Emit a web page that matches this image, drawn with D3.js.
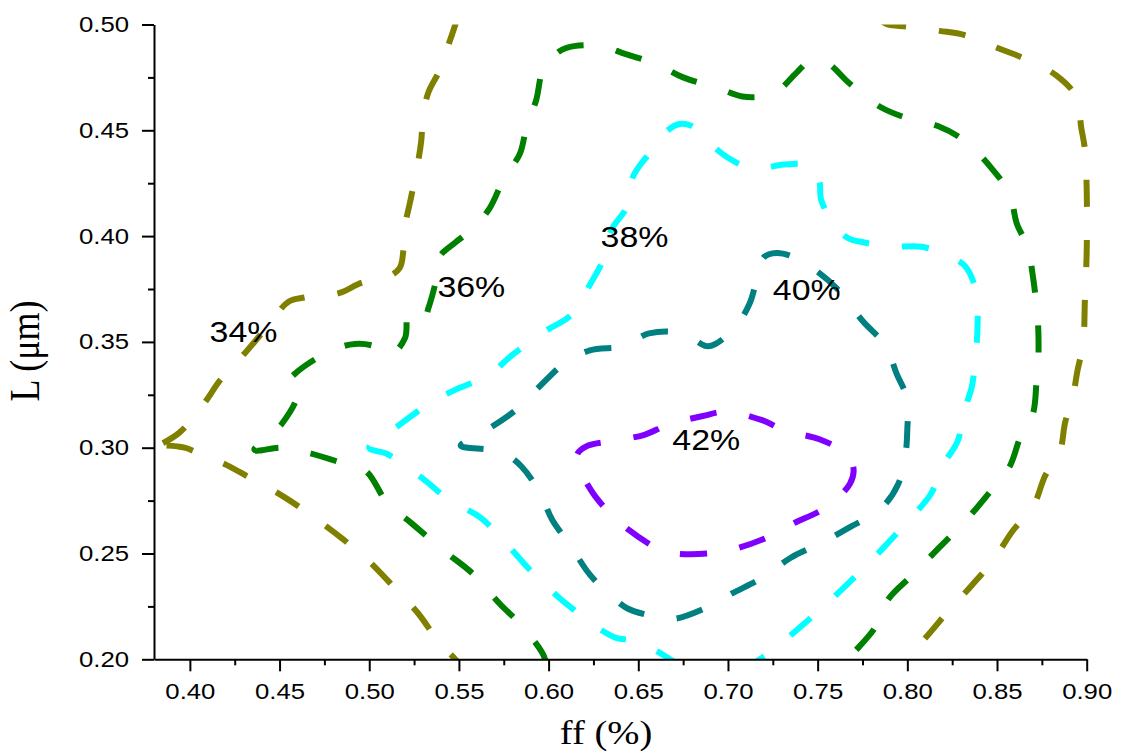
<!DOCTYPE html>
<html>
<head>
<meta charset="utf-8">
<script src="https://cdn.jsdelivr.net/npm/d3@7"></script>
<style>
  html, body { margin: 0; padding: 0; background: #fff; }
</style>
</head>
<body>
<svg id="chart" width="1123" height="751"></svg>
<script>
// Axis ticks
const ffTicks = [0.40, 0.45, 0.50, 0.55, 0.60, 0.65, 0.70, 0.75, 0.80, 0.85, 0.90];
const ffMinor = [0.425, 0.475, 0.525, 0.575, 0.625, 0.675, 0.725, 0.775, 0.825, 0.875];
const lTicks = [0.20, 0.25, 0.30, 0.35, 0.40, 0.45, 0.50];
const lMinor = [0.225, 0.275, 0.325, 0.375, 0.425, 0.475];

// Iso-efficiency contours, [ff, L] pairs
const eff34a = [[0.549,0.503],[0.548,0.500],[0.544,0.490],[0.539,0.478],[0.533,0.468],[0.530,0.457],[0.529,0.445],[0.527,0.434],[0.523,0.417],[0.520,0.405],[0.519,0.393],[0.517,0.385],[0.509,0.380],[0.496,0.378],[0.483,0.373],[0.464,0.371],[0.455,0.369],[0.443,0.357],[0.431,0.345],[0.417,0.332],[0.408,0.321],[0.394,0.307],[0.380,0.300]];
const eff34b = [[0.387,0.301],[0.397,0.300],[0.406,0.297],[0.420,0.292],[0.433,0.286],[0.452,0.277],[0.466,0.269],[0.485,0.257],[0.499,0.247],[0.515,0.233],[0.527,0.222],[0.539,0.208],[0.548,0.200],[0.551,0.196]];
const eff34c = [[0.785,0.502],[0.789,0.500],[0.800,0.499],[0.818,0.497],[0.832,0.495],[0.850,0.489],[0.865,0.484],[0.883,0.476],[0.894,0.466],[0.897,0.451],[0.899,0.441],[0.900,0.422],[0.900,0.393],[0.899,0.370],[0.898,0.349],[0.895,0.337],[0.892,0.323],[0.888,0.312],[0.885,0.298],[0.877,0.287],[0.870,0.272],[0.859,0.261],[0.848,0.247],[0.836,0.235],[0.822,0.222],[0.811,0.211],[0.799,0.200],[0.796,0.196]];
const eff36 = [[0.597,0.197],[0.598,0.200],[0.586,0.215],[0.573,0.226],[0.557,0.241],[0.542,0.251],[0.524,0.264],[0.510,0.274],[0.498,0.289],[0.484,0.293],[0.464,0.298],[0.451,0.300],[0.436,0.299],[0.451,0.311],[0.460,0.326],[0.455,0.331],[0.460,0.336],[0.479,0.346],[0.492,0.349],[0.503,0.348],[0.512,0.344],[0.520,0.352],[0.522,0.364],[0.531,0.362],[0.533,0.366],[0.538,0.382],[0.539,0.390],[0.548,0.397],[0.557,0.403],[0.567,0.413],[0.575,0.427],[0.584,0.439],[0.588,0.453],[0.593,0.464],[0.597,0.479],[0.604,0.486],[0.610,0.489],[0.628,0.490],[0.643,0.486],[0.661,0.481],[0.675,0.475],[0.694,0.470],[0.708,0.466],[0.719,0.466],[0.727,0.468],[0.738,0.477],[0.746,0.483],[0.755,0.482],[0.768,0.472],[0.785,0.461],[0.799,0.456],[0.817,0.452],[0.832,0.445],[0.847,0.432],[0.857,0.420],[0.861,0.406],[0.867,0.395],[0.870,0.381],[0.872,0.367],[0.873,0.356],[0.873,0.341],[0.872,0.331],[0.870,0.316],[0.863,0.305],[0.857,0.291],[0.846,0.279],[0.833,0.266],[0.818,0.253],[0.803,0.240],[0.789,0.228],[0.782,0.215],[0.770,0.203],[0.767,0.200],[0.764,0.196]];
const eff38 = [[0.673,0.197],[0.660,0.204],[0.646,0.209],[0.638,0.210],[0.629,0.214],[0.624,0.217],[0.606,0.229],[0.591,0.241],[0.576,0.255],[0.562,0.267],[0.545,0.275],[0.529,0.286],[0.510,0.297],[0.500,0.300],[0.514,0.309],[0.532,0.320],[0.547,0.327],[0.566,0.334],[0.580,0.344],[0.598,0.355],[0.613,0.363],[0.623,0.377],[0.630,0.388],[0.635,0.403],[0.643,0.413],[0.647,0.428],[0.656,0.439],[0.665,0.449],[0.673,0.453],[0.680,0.452],[0.686,0.447],[0.700,0.437],[0.714,0.432],[0.733,0.434],[0.747,0.433],[0.751,0.426],[0.752,0.417],[0.759,0.406],[0.767,0.399],[0.776,0.397],[0.789,0.395],[0.808,0.395],[0.822,0.391],[0.832,0.386],[0.837,0.378],[0.839,0.369],[0.839,0.354],[0.838,0.343],[0.836,0.329],[0.832,0.318],[0.828,0.303],[0.820,0.292],[0.813,0.278],[0.801,0.266],[0.787,0.253],[0.772,0.240],[0.756,0.227],[0.740,0.215],[0.723,0.203],[0.716,0.199],[0.712,0.196]];
const eff40 = [[0.717,0.383],[0.720,0.390],[0.727,0.392],[0.737,0.390],[0.747,0.385],[0.761,0.375],[0.775,0.360],[0.788,0.348],[0.794,0.335],[0.800,0.323],[0.800,0.309],[0.799,0.297],[0.795,0.283],[0.785,0.271],[0.767,0.262],[0.752,0.255],[0.735,0.248],[0.720,0.239],[0.702,0.231],[0.687,0.224],[0.669,0.219],[0.655,0.221],[0.644,0.224],[0.636,0.229],[0.623,0.240],[0.612,0.254],[0.602,0.266],[0.595,0.279],[0.585,0.291],[0.576,0.297],[0.567,0.299],[0.551,0.301],[0.563,0.307],[0.582,0.318],[0.595,0.329],[0.609,0.340],[0.623,0.346],[0.642,0.348],[0.656,0.354],[0.675,0.354],[0.688,0.348],[0.693,0.349],[0.704,0.357],[0.712,0.368]];
const eff42 = [[0.616,0.291],[0.616,0.297],[0.622,0.301],[0.634,0.303],[0.653,0.306],[0.667,0.311],[0.686,0.315],[0.699,0.317],[0.719,0.313],[0.732,0.308],[0.751,0.304],[0.766,0.297],[0.770,0.290],[0.768,0.283],[0.755,0.272],[0.736,0.264],[0.723,0.258],[0.703,0.252],[0.689,0.250],[0.671,0.250],[0.662,0.252],[0.657,0.254],[0.639,0.265],[0.626,0.277],[0.620,0.285]];

// Level labels and where they sit (left edge, baseline)
const labelText = ["34%", "36%", "38%", "40%", "42%"];
const labelFF = [0.411, 0.538, 0.629, 0.725, 0.669];
const labelL = [0.350, 0.371, 0.395, 0.370, 0.299];

// ---- drawing ----
const svg = d3.select("#chart");
svg.append("rect").attr("width", 1123).attr("height", 751).attr("fill", "#fff");

const x = d3.scaleLinear().domain([0.38, 0.90]).range([154, 1086.7]);
const y = d3.scaleLinear().domain([0.20, 0.50]).range([659.3, 24.5]);
const WIDEN = 1.17;

// stretch glyphs horizontally about each text's anchor point
function widen(sel, k) {
  sel.each(function () {
    const t = d3.select(this);
    const ax = +t.attr("x") || 0;
    t.attr("transform", `translate(${ax},0) scale(${k},1) translate(${-ax},0)`);
  });
}

svg.append("clipPath").attr("id", "plotClip")
  .append("rect")
  .attr("x", x(0.38)).attr("y", y(0.50))
  .attr("width", 1094 - x(0.38)).attr("height", y(0.20) - y(0.50));

const contours = [
  { pts: eff34a, color: "#808000", closed: false },
  { pts: eff34b, color: "#808000", closed: false },
  { pts: eff34c, color: "#808000", closed: false },
  { pts: eff36, color: "#008000", closed: false },
  { pts: eff38, color: "#00FFFF", closed: false },
  { pts: eff40, color: "#008080", closed: true },
  { pts: eff42, color: "#8000FF", closed: true }
];

const openLine = d3.line().x(d => x(d[0])).y(d => y(d[1])).curve(d3.curveCatmullRom.alpha(0.5));
const closedLine = d3.line().x(d => x(d[0])).y(d => y(d[1])).curve(d3.curveCatmullRomClosed.alpha(0.5));

const plot = svg.append("g").attr("clip-path", "url(#plotClip)");
plot.selectAll("path.contour")
  .data(contours)
  .join("path")
  .attr("class", "contour")
  .attr("d", c => (c.closed ? closedLine : openLine)(c.pts))
  .attr("fill", "none")
  .attr("stroke", c => c.color)
  .attr("stroke-width", 6)
  .attr("stroke-dasharray", "27 33")
  .attr("stroke-linecap", "butt")
  .attr("stroke-linejoin", "round");

// Axes
const fmt = d3.format(".2f");
function styleAxis(g) {
  g.select(".domain").attr("stroke", "#000").attr("stroke-width", 2);
  g.selectAll(".tick line").attr("stroke", "#000").attr("stroke-width", 2);
  g.selectAll(".tick text")
    .attr("fill", "#000")
    .style("font-family", "'Liberation Sans', Arial, sans-serif")
    .style("font-size", "22px");
}

const gx = svg.append("g").attr("transform", `translate(0,${y(0.20)})`)
  .call(d3.axisBottom(x).tickValues(ffTicks).tickFormat(fmt).tickSize(12).tickPadding(12).tickSizeOuter(0));
styleAxis(gx);
widen(gx.selectAll(".tick text"), WIDEN);
svg.append("g").attr("transform", `translate(0,${y(0.20)})`)
  .call(d3.axisBottom(x).tickValues(ffMinor).tickFormat("").tickSize(6).tickSizeOuter(0))
  .call(g => { g.select(".domain").remove(); g.selectAll(".tick line").attr("stroke", "#000").attr("stroke-width", 2); });

const gy = svg.append("g").attr("transform", `translate(${x(0.38)},0)`)
  .call(d3.axisLeft(y).tickValues(lTicks).tickFormat(fmt).tickSize(12).tickPadding(13).tickSizeOuter(0));
styleAxis(gy);
widen(gy.selectAll(".tick text"), WIDEN);
svg.append("g").attr("transform", `translate(${x(0.38)},0)`)
  .call(d3.axisLeft(y).tickValues(lMinor).tickFormat("").tickSize(6).tickSizeOuter(0))
  .call(g => { g.select(".domain").remove(); g.selectAll(".tick line").attr("stroke", "#000").attr("stroke-width", 2); });

// Contour level labels
const labels = svg.append("g").selectAll("text")
  .data(labelText)
  .join("text")
  .attr("x", (d, i) => x(labelFF[i]))
  .attr("y", (d, i) => y(labelL[i]))
  .attr("fill", "#000")
  .style("font-family", "'Liberation Sans', Arial, sans-serif")
  .style("font-size", "29px")
  .text(d => d);
widen(labels, WIDEN);

// Axis titles
const xTitle = svg.append("text")
  .attr("x", 606).attr("y", 744)
  .attr("text-anchor", "middle")
  .attr("fill", "#000")
  .style("font-family", "'Liberation Serif', 'Times New Roman', serif")
  .style("font-size", "33px")
  .text("ff (%)");
widen(xTitle, WIDEN);

svg.append("g")
  .attr("transform", `translate(39,351) scale(${WIDEN},1) rotate(-90)`)
  .append("text")
  .attr("text-anchor", "middle")
  .attr("fill", "#000")
  .style("font-family", "'Liberation Serif', 'Times New Roman', serif")
  .style("font-size", "36px")
  .text("L (μm)");
</script>
</body>
</html>
